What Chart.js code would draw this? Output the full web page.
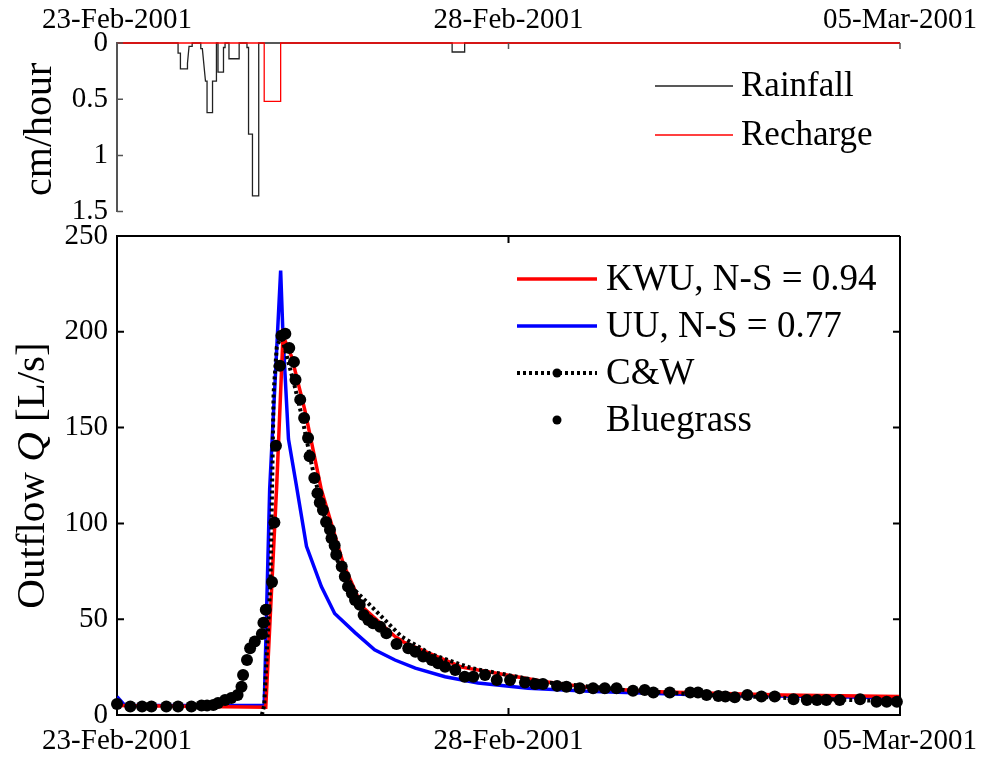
<!DOCTYPE html>
<html>
<head>
<meta charset="utf-8">
<script src="https://cdn.jsdelivr.net/npm/chart.js@4.4.1/dist/chart.umd.min.js"></script>
<style>
  body { margin: 0; background: #fff; width: 989px; height: 758px; overflow: hidden; position: relative; }
  canvas { position: absolute; left: 0; }
  #rainChart { top: 0; }
  #flowChart { top: 200px; }
</style>
</head>
<body>
<canvas id="rainChart" width="989" height="238"></canvas>
<canvas id="flowChart" width="989" height="558"></canvas>
<script>
// time axis: days after 23-Feb-2001 00:00
let dateTicks = [0, 5, 10];
let dateLabels = ['23-Feb-2001', '28-Feb-2001', '05-Mar-2001'];

// top panel: rainfall & recharge intensity (cm/hour)
let rainDays = [0, 0.78, 0.78, 0.81, 0.81, 0.90, 0.90, 0.92, 0.96, 0.96,
                1.07, 1.07, 1.09, 1.13, 1.15, 1.15, 1.22, 1.22, 1.27, 1.27,
                1.29, 1.29, 1.36, 1.36, 1.38, 1.38, 1.43, 1.43, 1.56, 1.56,
                1.66, 1.66, 1.68, 1.68, 1.73, 1.73, 1.81, 1.81,
                4.28, 4.28, 4.44, 4.44, 10];
let rainVals = [0, 0, 0.09, 0.09, 0.23, 0.23, 0.18, 0.03, 0.03, 0,
                0, 0.05, 0.05, 0.34, 0.34, 0.62, 0.62, 0.34, 0.34, 0,
                0, 0.26, 0.26, 0.04, 0.04, 0, 0, 0.14, 0.14, 0,
                0, 0.04, 0.04, 0.81, 0.81, 1.36, 1.36, 0,
                0, 0.08, 0.08, 0, 0];
let rechargeDays = [0, 1.88, 1.88, 2.09, 2.09, 10];
let rechargeVals = [0, 0, 0.52, 0.52, 0, 0];

// bottom panel: outflow Q (L/s)
let kwuDays = [0, 1.90, 2.04, 2.12, 2.23, 2.40, 2.61, 2.89, 3.13, 3.55, 3.68, 4.40, 4.83, 5.47, 6.10, 7.00, 8.50, 10];
let kwuQ    = [5, 4, 120, 198, 187, 159, 117.5, 79, 56.6, 41, 37.6, 25, 21.9, 17.4, 14, 12, 10.5, 9.6];

let uuDays = [0, 0.10, 1.88, 1.95, 2.09, 2.12, 2.19, 2.29, 2.42, 2.61, 2.78, 3.04, 3.29, 3.55, 3.81, 4.19, 4.61, 5.25, 6.10, 7.50, 10];
let uuQ    = [9.5, 5, 5, 118, 232, 198, 144, 120, 88, 67, 53, 43, 34, 28.7, 24.5, 20, 16.7, 14, 12.2, 10.5, 9];

let cwDays = [1.85, 1.88, 1.96, 1.98, 2.00, 2.04, 2.10, 2.27, 2.36, 2.49, 2.53, 2.78, 3.04, 3.25, 3.63, 4.00, 4.53, 5.50, 6.50, 7.50, 8.50, 10];
let cwQ    = [0, 5, 70, 117, 168, 192, 198, 171.5, 156, 130, 123, 83, 65, 56.6, 41, 32, 24.4, 17, 13, 10.5, 9, 7];

let bgDays = [0.00, 0.17, 0.32, 0.44, 0.63, 0.78, 0.95, 1.08, 1.15, 1.23, 1.29, 1.38, 1.46, 1.54, 1.59, 1.61, 1.66, 1.70, 1.76, 1.85,
              1.87, 1.90, 1.98, 2.01, 2.03, 2.08, 2.10, 2.15, 2.20, 2.26, 2.28, 2.34, 2.39, 2.44, 2.46, 2.52, 2.56, 2.59, 2.63, 2.67,
              2.72, 2.74, 2.78, 2.80, 2.87, 2.91, 2.95, 3.00, 3.04, 3.10, 3.15, 3.21, 3.27, 3.36, 3.44, 3.57, 3.72, 3.81, 3.91, 4.02,
              4.10, 4.19, 4.32, 4.44, 4.55, 4.70, 4.85, 5.02, 5.21, 5.34, 5.44, 5.62, 5.74, 5.91, 6.08, 6.23, 6.38, 6.59, 6.74, 6.85,
              7.06, 7.32, 7.42, 7.53, 7.68, 7.77, 7.89, 8.05, 8.23, 8.40, 8.64, 8.81, 8.94, 9.06, 9.23, 9.49, 9.70, 9.83, 9.96];
let bgQ    = [5.7, 4.4, 4.4, 4.4, 4.4, 4.4, 4.4, 5.0, 5.0, 5.2, 6.3, 7.8, 8.9, 10.4, 14.8, 20.9, 28.7, 34.8, 38.3, 42.3,
              48.2, 54.9, 69.4, 100.5, 140.5, 182.3, 198, 199, 191.6, 184.3, 175, 164.6, 155, 144.6, 135, 123.7, 115.8, 110.9, 107, 100.7,
              96.7, 92.3, 88.5, 83.6, 77.5, 72.3, 67, 63.6, 60, 57.5, 52.2, 49.6, 47.9, 46.1, 42.7, 37, 34.8, 33, 30.5, 28.7,
              27, 25.2, 23.5, 20, 20, 20.9, 18.3, 18.3, 16.9, 16.2, 16.2, 15.2, 14.8, 13.9, 13.9, 13.9, 13.9, 12.7, 13, 11.7,
              11.7, 11.7, 11.7, 10.4, 9.9, 9.6, 9.2, 10.4, 9.6, 9.6, 8.2, 7.8, 7.8, 7.8, 7.8, 8.2, 6.9, 6.9, 6.9];

const FONT = '"Liberation Serif", "Times New Roman", serif';

function pts(xs, ys) {
  return xs.map((x, i) => ({ x: x, y: ys[i] }));
}

// inward tick marks + box lines (matlab style)
const frame = {
  id: 'frame',
  afterDatasetsDraw(chart, args, o) {
    const ctx = chart.ctx, a = chart.chartArea;
    const xs = chart.scales.x, ys = chart.scales.y;
    ctx.save();
    ctx.strokeStyle = o.color;
    ctx.lineWidth = o.width;
    ctx.beginPath();
    if (o.box) {
      ctx.moveTo(a.left, a.top); ctx.lineTo(a.right, a.top);
      ctx.moveTo(a.right, a.top); ctx.lineTo(a.right, a.bottom);
    }
    ys.ticks.forEach(t => {
      const y = ys.getPixelForValue(t.value);
      ctx.moveTo(a.left, y); ctx.lineTo(a.left + o.len, y);
      if (o.box) { ctx.moveTo(a.right, y); ctx.lineTo(a.right - o.len, y); }
    });
    xs.ticks.forEach(t => {
      const x = xs.getPixelForValue(t.value);
      if (o.xTop) { ctx.moveTo(x, a.top); ctx.lineTo(x, a.top + o.len); }
      if (o.xBottom) { ctx.moveTo(x, a.bottom); ctx.lineTo(x, a.bottom - o.len); }
    });
    ctx.stroke();
    ctx.restore();
  }
};

// legend drawn by hand so C&W can show a dotted line with a dot
const legendBox = {
  id: 'legendBox',
  afterDraw(chart, args, o) {
    const ctx = chart.ctx;
    ctx.save();
    ctx.font = o.size + 'px ' + FONT;
    ctx.textBaseline = 'middle';
    chart.data.datasets.forEach((ds, i) => {
      const y = o.y + i * o.gap;
      if (ds.showLine !== false) {
        ctx.strokeStyle = ds.borderColor;
        ctx.lineWidth = ds.borderWidth;
        ctx.setLineDash(ds.borderDash || []);
        ctx.beginPath();
        ctx.moveTo(o.x, y); ctx.lineTo(o.x + o.len, y);
        ctx.stroke();
        ctx.setLineDash([]);
      }
      if (ds.legendDot) {
        ctx.fillStyle = '#000';
        ctx.beginPath();
        ctx.arc(o.x + o.len / 2, y, ds.legendDot, 0, Math.PI * 2);
        ctx.fill();
      }
      ctx.fillStyle = '#000';
      ctx.fillText(ds.label, o.x + o.len + o.textGap, y + 1);
    });
    ctx.restore();
  }
};

// y axis title, allows an italic piece
const yTitle = {
  id: 'yTitle',
  afterDraw(chart, args, o) {
    const ctx = chart.ctx, a = chart.chartArea;
    ctx.save();
    ctx.translate(o.x, (a.top + a.bottom) / 2 + (o.shift || 0));
    ctx.rotate(-Math.PI / 2);
    ctx.textBaseline = 'middle';
    ctx.textAlign = 'left';
    ctx.fillStyle = '#000';
    let w = 0;
    o.parts.forEach(p => {
      ctx.font = (p.italic ? 'italic ' : '') + o.size + 'px ' + FONT;
      w += ctx.measureText(p.text).width;
    });
    let x = -w / 2;
    o.parts.forEach(p => {
      ctx.font = (p.italic ? 'italic ' : '') + o.size + 'px ' + FONT;
      ctx.fillText(p.text, x, 0);
      x += ctx.measureText(p.text).width;
    });
    ctx.restore();
  }
};

function timeAxis(pos, h, pad) {
  return {
    type: 'linear', position: pos, min: 0, max: 10,
    afterBuildTicks: s => { s.ticks = dateTicks.map(v => ({ value: v })); },
    afterFit: s => { s.height = h; },
    grid: { display: false, drawTicks: false },
    border: { display: pos === 'bottom', color: '#000', width: 2 },
    ticks: {
      padding: pad, maxRotation: 0, autoSkip: false, color: '#000',
      font: { family: FONT, size: 29 },
      callback: (v, i) => dateLabels[i]
    }
  };
}

// top: rainfall / recharge
new Chart(document.getElementById('rainChart'), {
  type: 'line',
  data: {
    datasets: [
      { label: 'Rainfall', data: pts(rainDays, rainVals), borderColor: '#222', borderWidth: 1.3,
        pointRadius: 0, tension: 0, clip: 4, order: 2 },
      { label: 'Recharge', data: pts(rechargeDays, rechargeVals), borderColor: '#ff0000', borderWidth: 1.3,
        pointRadius: 0, tension: 0, clip: 4, order: 1 }
    ]
  },
  options: {
    responsive: false, animation: false, events: [],
    layout: { padding: { left: 0, right: 89, top: 0, bottom: 21 } },
    scales: {
      x: timeAxis('top', 43, 5),
      y: {
        min: 0, max: 1.5, reverse: true,
        afterFit: s => { s.width = 117; },
        grid: { display: false, drawTicks: false },
        border: { display: true, color: '#555', width: 2 },
        ticks: { stepSize: 0.5, padding: 9, color: '#000', font: { family: FONT, size: 29 },
                 callback: v => String(v) }
      }
    },
    plugins: {
      legend: { display: false }, tooltip: { enabled: false },
      frame: { color: '#555', width: 1.5, len: 6, box: false, xTop: true, xBottom: false },
      legendBox: { x: 655, y: 86, gap: 49, len: 78, textGap: 8, size: 35 },
      yTitle: { x: 40, size: 40, shift: 2, parts: [{ text: 'cm/hour' }] }
    }
  },
  plugins: [frame, legendBox, yTitle]
});

// bottom: outflow
new Chart(document.getElementById('flowChart'), {
  type: 'line',
  data: {
    datasets: [
      { label: 'KWU, N-S = 0.94', data: pts(kwuDays, kwuQ), borderColor: '#ff0000', borderWidth: 3.5,
        pointRadius: 0, tension: 0, order: 3 },
      { label: 'UU, N-S = 0.77', data: pts(uuDays, uuQ), borderColor: '#0000ff', borderWidth: 3.5,
        pointRadius: 0, tension: 0, order: 4 },
      { label: 'C&W', data: pts(cwDays, cwQ), borderColor: '#000', borderWidth: 4, borderDash: [3, 3],
        pointRadius: 0, tension: 0, clip: 8, order: 2, legendDot: 4.5 },
      { label: 'Bluegrass', data: pts(bgDays, bgQ), showLine: false, borderColor: '#000', borderWidth: 0,
        backgroundColor: '#000', pointRadius: 6, pointBackgroundColor: '#000', pointBorderWidth: 0,
        clip: 8, order: 1, legendDot: 4.5 }
    ]
  },
  options: {
    responsive: false, animation: false, events: [],
    layout: { padding: { left: 0, right: 89, top: 36, bottom: 0 } },
    scales: {
      x: timeAxis('bottom', 43, 9),
      y: {
        min: 0, max: 250,
        afterFit: s => { s.width = 117; },
        grid: { display: false, drawTicks: false },
        border: { display: true, color: '#000', width: 2 },
        ticks: { stepSize: 50, padding: 9, color: '#000', font: { family: FONT, size: 29 } }
      }
    },
    plugins: {
      legend: { display: false }, tooltip: { enabled: false },
      frame: { color: '#000', width: 2, len: 7, box: true, xTop: true, xBottom: true },
      legendBox: { x: 517, y: 79, gap: 47, len: 80, textGap: 9, size: 37 },
      yTitle: { x: 33, size: 41, parts: [{ text: 'Outflow ' }, { text: 'Q', italic: true }, { text: ' [L/s]' }] }
    }
  },
  plugins: [frame, legendBox, yTitle]
});
</script>
</body>
</html>
